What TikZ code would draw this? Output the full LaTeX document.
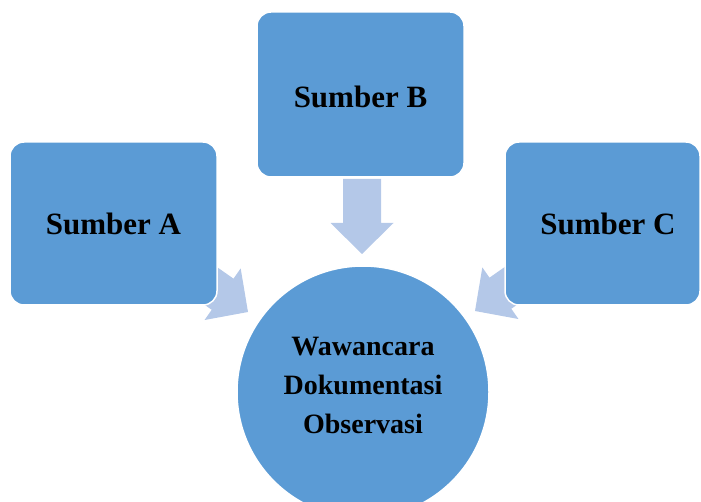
\documentclass[tikz,border=0pt]{standalone}
\usepackage{fontspec}
\setmainfont{Liberation Serif}
\begin{document}
\begin{tikzpicture}[x=1pt,y=1pt,
  srcbox/.style={draw=white, line width=1.5pt, fill=boxblue, rounded corners=14pt, inner sep=0pt},
  srclbl/.style={font=\fontsize{31}{37}\selectfont\bfseries, text=black, inner sep=0pt},
  hub/.style={circle, draw=white, line width=1.5pt, fill=boxblue, minimum size=252pt, inner sep=0pt},
  hublbl/.style={font=\fontsize{28}{39}\selectfont\bfseries, align=center, text=black, inner sep=0pt},
  blockarrow/.style={fill=arrowblue}]
\definecolor{boxblue}{HTML}{5B9BD5}
\definecolor{arrowblue}{HTML}{B4C8E8}
\useasboundingbox (0,0) rectangle (701,501);
% arrow tips
\coordinate (tipA) at (248,189);
\coordinate (tipB) at (362,247);
\coordinate (tipC) at (475,190);
% block arrows (drawn first, partly hidden behind boxes)
\foreach \t/\a in {tipA/-35, tipB/-90, tipC/215}{
  \fill[blockarrow, shift={(\t)}, rotate=\a]
    (0,0) -- (-31,31.5) -- (-31,19) -- (-75,19) -- (-75,-19) -- (-31,-19) -- (-31,-31.5) -- cycle;
}
% source boxes
\node[srcbox, minimum width=207pt, minimum height=163pt] (A) at (113.5,277.5) {};
\node[srclbl] (Al) at (A.center) {Sumber A};
\node[srcbox, minimum width=207pt, minimum height=165pt] (B) at (360.5,406.5) {};
\node[srclbl] (Bl) at (360.5,404) {Sumber B};
\node[srcbox, minimum width=195pt, minimum height=163pt] (C) at (602.5,277.5) {};
\node[srclbl] (Cl) at (608,277.5) {Sumber C};
% hub circle
\node[hub] (H) at (363,109) {};
\node[hublbl] (Hl) at (363,116) {Wawancara\\Dokumentasi\\Observasi};
\end{tikzpicture}
\end{document}
